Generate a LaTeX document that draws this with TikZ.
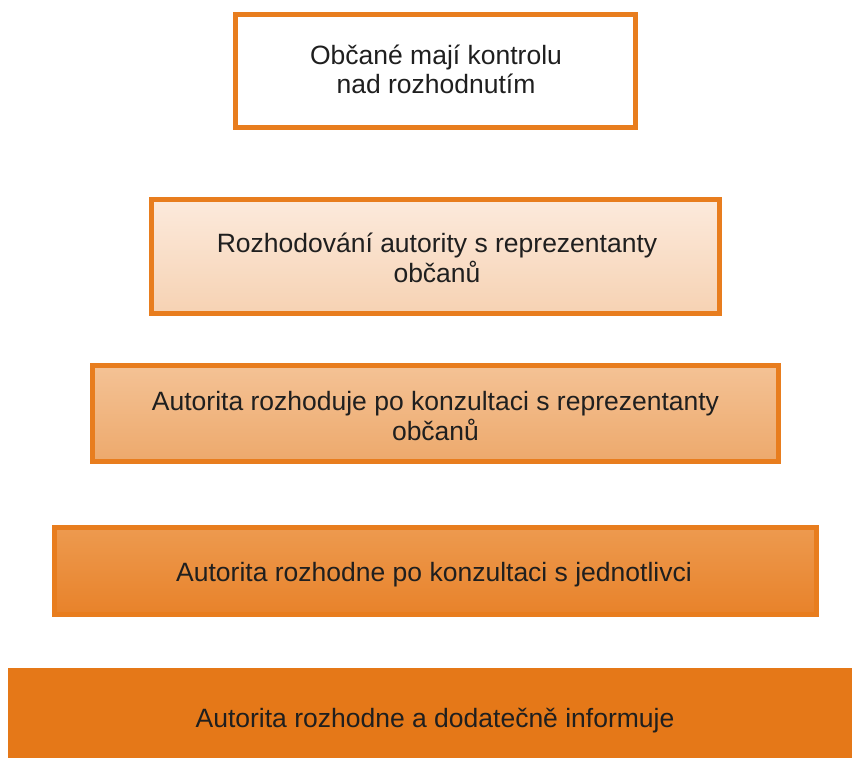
\documentclass[tikz,border=0pt]{standalone}
\usepackage{fontspec}
\setmainfont{Liberation Sans}
\definecolor{orbord}{HTML}{E87D1E}
\definecolor{orsolid}{HTML}{E57818}
\newcommand{\twolines}[2]{\begin{tabular}[t]{@{}c@{}}#1\\#2\end{tabular}}
\begin{document}
\begin{tikzpicture}[x=1pt,y=-1pt,
  lvl/.style={draw=orbord, line width=5pt, inner sep=0pt},
  lbl/.style={anchor=base, inner sep=0pt, align=center,
    font=\fontsize{26.5}{29.7}\selectfont, text=black!88},
]
\useasboundingbox (0,0) rectangle (852,758);
\node[lvl, fill=white, minimum width=400pt, minimum height=113pt] (l1) at (435.5,71) {};
\node[lvl, top color={rgb,255:red,252;green,234;blue,220}, bottom color={rgb,255:red,246;green,210;blue,179}, minimum width=568pt, minimum height=114pt] (l2) at (435.5,256.5) {};
\node[lvl, top color={rgb,255:red,244;green,194;blue,149}, bottom color={rgb,255:red,237;green,169;blue,108}, minimum width=686pt, minimum height=96pt] (l3) at (435.5,413.5) {};
\node[lvl, top color={rgb,255:red,237;green,154;blue,79}, bottom color={rgb,255:red,232;green,130;blue,42}, minimum width=762pt, minimum height=87pt] (l4) at (435.5,571) {};
\node[lvl, draw=none, fill=orsolid, minimum width=844pt, minimum height=90pt] (l5) at (430,713) {};
\node[lbl] (t1) at (436,64) {\twolines{Občané mají kontrolu}{nad rozhodnutím}};
\node[lbl] (t2) at (437,252) {\twolines{Rozhodování autority s reprezentanty}{občanů}};
\node[lbl] (t3) at (435.5,410) {\twolines{Autorita rozhoduje po konzultaci s reprezentanty}{občanů}};
\node[lbl] (t4) at (434,581.5) {Autorita rozhodne po konzultaci s jednotlivci};
\node[lbl] (t5) at (435,727.5) {Autorita rozhodne a dodatečně informuje};
\end{tikzpicture}
\end{document}
